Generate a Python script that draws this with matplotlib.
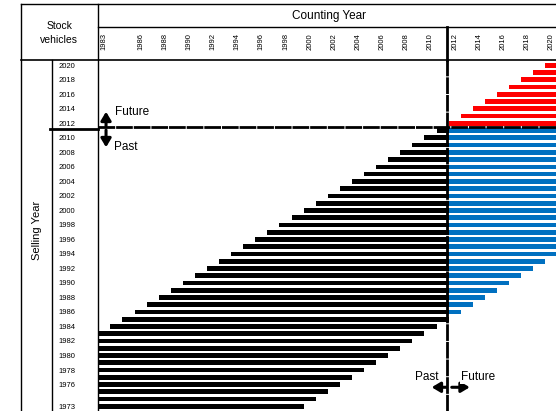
import matplotlib
matplotlib.use("Agg")
import matplotlib.pyplot as plt
from matplotlib.lines import Line2D

plt.rcParams['font.family'] = ['Liberation Sans', 'DejaVu Sans']

# selling years (rows) and the counting years each bar covers
selling_year = [1973, 1974, 1975, 1976, 1977, 1978, 1979, 1980, 1981, 1982,
                1983, 1984, 1985, 1986, 1987, 1988, 1989, 1990, 1991, 1992,
                1993, 1994, 1995, 1996, 1997, 1998, 1999, 2000, 2001, 2002,
                2003, 2004, 2005, 2006, 2007, 2008, 2009, 2010, 2011]
past_first = [1983, 1983, 1983, 1983, 1983, 1983, 1983, 1983, 1983, 1983,
              1983, 1984, 1985, 1986, 1987, 1988, 1989, 1990, 1991, 1992,
              1993, 1994, 1995, 1996, 1997, 1998, 1999, 2000, 2001, 2002,
              2003, 2004, 2005, 2006, 2007, 2008, 2009, 2010, 2011]
past_last = [1999, 2000, 2001, 2002, 2003, 2004, 2005, 2006, 2007, 2008,
             2009, 2010, 2011, 2011, 2011, 2011, 2011, 2011, 2011, 2011,
             2011, 2011, 2011, 2011, 2011, 2011, 2011, 2011, 2011, 2011,
             2011, 2011, 2011, 2011, 2011, 2011, 2011, 2011, 2011]
# future part of vehicles already sold (blue)
stock_year = [1986, 1987, 1988, 1989, 1990, 1991, 1992, 1993, 1994, 1995,
              1996, 1997, 1998, 1999, 2000, 2001, 2002, 2003, 2004, 2005,
              2006, 2007, 2008, 2009, 2010, 2011]
stock_last = [2012, 2013, 2014, 2015, 2016, 2017, 2018, 2019, 2020, 2020,
              2020, 2020, 2020, 2020, 2020, 2020, 2020, 2020, 2020, 2020,
              2020, 2020, 2020, 2020, 2020, 2020]
# vehicles to be sold in the future (red)
new_year = [2012, 2013, 2014, 2015, 2016, 2017, 2018, 2019, 2020]
new_last = [2020, 2020, 2020, 2020, 2020, 2020, 2020, 2020, 2020]

count_ticks = [1983, 1986, 1988, 1990, 1992, 1994, 1996, 1998, 2000, 2002,
               2004, 2006, 2008, 2010, 2012, 2014, 2016, 2018, 2020]
sell_ticks = [2020, 2018, 2016, 2014, 2012, 2010, 2008, 2006, 2004, 2002,
              2000, 1998, 1996, 1994, 1992, 1990, 1988, 1986, 1984, 1982,
              1980, 1978, 1976, 1973]

W, H = 556, 411
fig = plt.figure(figsize=(W / 100, H / 100), dpi=100)


def fx(px):
    return px / W


def fy(py):
    return 1 - py / H


ax = fig.add_axes([fx(98.3), 0, 1 - fx(98.3), fy(60)])
bh = 0.65

ax.barh(selling_year, [b - a + 1 for a, b in zip(past_first, past_last)],
        left=past_first, height=bh, color='black')
ax.barh(stock_year, [b - 2012 + 1 for b in stock_last], left=2012,
        height=bh, color='#0070C0')
ax.barh(new_year, [b - a + 1 for a, b in zip(new_year, new_last)],
        left=new_year, height=bh, color='#FF0000')

ax.set_xlim(1983, 2020.89)
ax.set_ylim(1972.35, 2020.73)
for s in ax.spines.values():
    s.set_visible(False)

ax.xaxis.tick_top()
ax.set_xticks([t + 0.5 for t in count_ticks])
ax.set_xticklabels([str(t) for t in count_ticks], rotation=90, fontsize=5.5)
ax.tick_params(axis='x', length=0, pad=7)
ax.set_yticks(sell_ticks)
ax.set_yticklabels([str(t) for t in sell_ticks], fontsize=5.5)
ax.tick_params(axis='y', length=0, pad=16.5)

# past / future boundaries
ax.axhline(2011.5, xmin=0, xmax=1, color='black', lw=2, ls=(0, (6, 0.35)))
ax.plot([2012 - 0.15, 2012 - 0.15], [1972.35, 2020.73], color='black', lw=2,
        ls=(0, (6, 0.35)))

# header frame
lines = [
    ([20.7, W], [4.3, 4.3], 1),
    ([20.7, 20.7], [4.3, H], 1),
    ([98.3, 98.3], [4.3, H], 1),
    ([98.3, W], [27.3, 27.3], 1),
    ([20.7, W], [60, 60], 1.2),
    ([51.7, 51.7], [60, H], 1),
    ([446.7, 446.7], [27.3, 60], 2),
    ([50, 98.3], [128.7, 128.7], 2),
]
for xs, ys, lw in lines:
    fig.add_artist(Line2D([fx(x) for x in xs], [fy(y) for y in ys],
                          color='black', lw=lw))

fig.text(fx(59.3), fy(33), 'Stock\nvehicles', ha='center', va='center',
         fontsize=7.5, linespacing=1.5)
fig.text(fx(329), fy(16), 'Counting Year', ha='center', va='center',
         fontsize=8.5)
fig.text(fx(37), fy(230), 'Selling Year', ha='center', va='center',
         fontsize=8, rotation=90)

arrow = dict(arrowstyle='-|>,head_length=0.5,head_width=0.3', lw=2.2,
             color='black', shrinkA=0, shrinkB=0)
ax.annotate('', xy=(1983.64, 2013.6), xytext=(1983.64, 2011.63),
            arrowprops=arrow, annotation_clip=False)
ax.annotate('', xy=(1983.64, 2008.7), xytext=(1983.64, 2011.07),
            arrowprops=arrow, annotation_clip=False)
ax.text(1984.35, 2013.6, 'Future', fontsize=8.5, va='center', ha='left')
ax.text(1984.3, 2008.8, 'Past', fontsize=8.5, va='center', ha='left')

ax.annotate('', xy=(2010.6, 1975.62), xytext=(2011.84, 1975.62),
            arrowprops=arrow, annotation_clip=False)
ax.annotate('', xy=(2013.75, 1975.62), xytext=(2012.26, 1975.62),
            arrowprops=arrow, annotation_clip=False)
ax.text(2011.15, 1977.1, 'Past', fontsize=8.5, va='center', ha='right',
        bbox=dict(facecolor='white', edgecolor='none', pad=0.5))
ax.text(2013.0, 1977.0, 'Future', fontsize=8.5, va='center', ha='left',
        bbox=dict(facecolor='white', edgecolor='none', pad=0.5))

fig.savefig('out.png', dpi=100)
